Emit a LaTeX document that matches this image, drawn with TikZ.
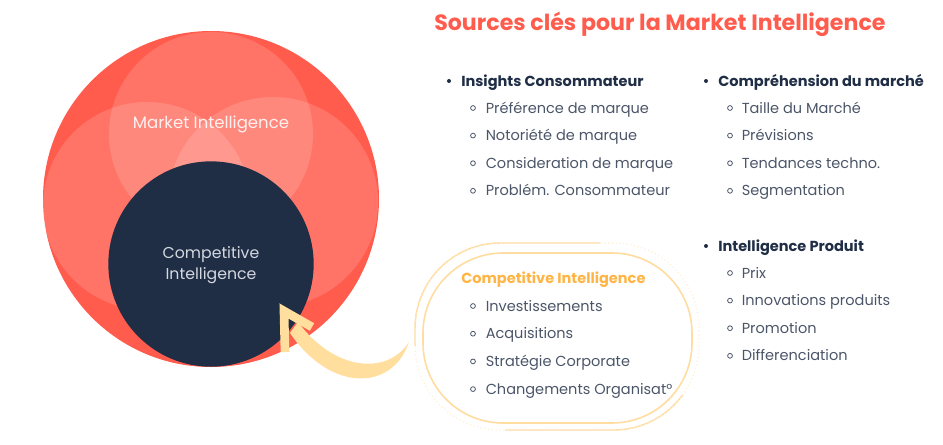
\documentclass[tikz,border=0pt]{standalone}
\usepackage{fontspec}
\setmainfont{Poppins}
\definecolor{mired}{HTML}{FF5C4D}
\definecolor{navy}{HTML}{1F2D45}
\definecolor{itemgray}{HTML}{4B5568}
\definecolor{citext}{HTML}{D3D8E0}
\definecolor{arrowc}{HTML}{FFDE9E}
\definecolor{loopc}{HTML}{FFDCA0}
\definecolor{ciorange}{HTML}{FFB546}
\begin{document}
\begin{tikzpicture}[x=0.75pt,y=-0.75pt,
  hdr/.style={font=\bfseries\fontsize{10.9}{12}\selectfont, text=navy, anchor=base west, inner sep=0pt},
  itm/.style={font=\fontsize{10.9}{12}\selectfont, text=itemgray, anchor=base west, inner sep=0pt},
  hdot/.style={fill=navy},
  sdot/.style={draw=itemgray, line width=0.6pt},
  overlay/.style={circle, fill=white, fill opacity=0.15, inner sep=0pt}
]
\useasboundingbox (0,0) rectangle (943,444);

% ---- circles ----
\node[circle, fill=mired, inner sep=0pt, minimum size=252pt] (mi) at (211,199) {};
\node[overlay, minimum size=153pt] (otop) at (211,134) {};
\node[overlay, minimum size=156pt] (oleft) at (147,206) {};
\node[overlay, minimum size=157.5pt] (oright) at (273,202) {};
\node[font=\fontsize{12.4}{14}\selectfont, text=white, text opacity=0.88] (milabel) at (211,124) {Market Intelligence};
\node[circle, fill=navy, inner sep=0pt, minimum size=154pt] (ci) at (211,264) {};
\node[font=\fontsize{11.8}{15.8}\selectfont, text=citext, align=center] (cilabel) at (211,265) {Competitive\\Intelligence};

% ---- title ----
\node[font=\bfseries\fontsize{16.6}{18}\selectfont, text=mired, anchor=base west, inner sep=0pt] (title) at (434,30.5) {Sources clés pour la Market Intelligence};

% ---- column 1 ----
\fill[hdot] (449,81) circle (2);
\node[hdr] (h1) at (461,86) {Insights Consommateur};
\foreach \t [count=\i] in {Préférence de marque, Notoriété de marque, Consideration de marque, Problém. Consommateur} {
  \draw[sdot] (473,{108+(\i-1)*27.6}) circle (2.4);
  \node[itm] (a\i) at (485.5,{113+(\i-1)*27.6}) {\t};
}

% ---- column 2 ----
\fill[hdot] (706,81) circle (2);
\node[hdr] (h2) at (718,86) {Compréhension du marché};
\foreach \t [count=\i] in {Taille du Marché, Prévisions, Tendances techno., Segmentation} {
  \draw[sdot] (730,{108+(\i-1)*27.6}) circle (2.4);
  \node[itm] (b\i) at (741.5,{113+(\i-1)*27.6}) {\t};
}

\fill[hdot] (706,246) circle (2);
\node[hdr] (h3) at (718,251) {Intelligence Produit};
\foreach \t [count=\i] in {Prix, Innovations produits, Promotion, Differenciation} {
  \draw[sdot] (730,{273+(\i-1)*27.6}) circle (2.4);
  \node[itm] (c\i) at (741.5,{278+(\i-1)*27.6}) {\t};
}

% ---- competitive intelligence loop ----
\begin{scope}
  \clip (400,230) rectangle (600,345);
  \draw[loopc, line width=1.1pt, rounded corners=64pt] (415,243) rectangle (699,430);
\end{scope}
\begin{scope}
  \clip (505,395) rectangle (720,440);
  \draw[loopc, line width=1.1pt, rounded corners=64pt] (415,243) rectangle (699,430);
\end{scope}
\draw[loopc!55, line width=0.8pt, dotted, rounded corners=64pt] (415,243) rectangle (699,430);
\draw[loopc, line width=1.2pt, rounded corners=60pt] (423,253) rectangle (692,423);

\node[font=\bfseries\fontsize{10.9}{12}\selectfont, text=ciorange, anchor=base west, inner sep=0pt] (h4) at (461,283) {Competitive Intelligence};
\foreach \t [count=\i] in {Investissements, Acquisitions, Stratégie Corporate, Changements Organisat°} {
  \draw[sdot] (473,{306+(\i-1)*27.7}) circle (2.4);
  \node[itm] (d\i) at (485.5,{311+(\i-1)*27.7}) {\t};
}

% ---- arrow ----
\coordinate (atail) at (409,342);
\coordinate (ahead) at (284,311);
\fill[arrowc] (atail) .. controls (392,392) and (330,392) .. (290,333) -- (298,322) .. controls (335,372) and (388,375) .. (atail) -- cycle;
\draw[arrowc, line width=6.5pt, line join=miter] (285,352) -- (ahead) -- (312,327);
\end{tikzpicture}
\end{document}
